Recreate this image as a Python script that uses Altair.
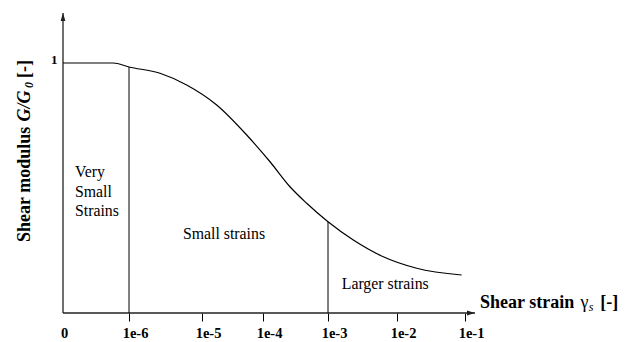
import json
import altair as alt
import pandas as pd

# ---------------- data ----------------
# x is a "decade index": 0 -> 0, 1 -> 1e-6, 2 -> 1e-5, ... 6 -> 1e-1
tick_pos = [0, 1, 2, 3, 4, 5, 6]
tick_labels = ["0", "1e-6", "1e-5", "1e-4", "1e-3", "1e-2", "1e-1"]

strain_pos = [0.0, 0.76, 1.0, 1.425, 1.79, 2.241, 2.733, 3.108, 3.415, 3.672,
              4.0, 4.367, 4.801, 5.29, 5.951]
g_ratio = [1.0, 1.0, 0.984, 0.959, 0.912, 0.832, 0.712, 0.605, 0.505, 0.439,
           0.365, 0.292, 0.225, 0.179, 0.152]

boundary_pos = [1, 4]
boundary_top = [0.984, 0.365]

y_tick_vals = [1]

region_text = ["Very", "Small", "Strains", "Larger strains"]
center_text = ["Small strains"]

FONT = "Liberation Serif"

# ---------------- scales / axes ----------------
# hand-drawn axis: ticks are not evenly spaced, so use a piecewise scale
X_SCALE = alt.Scale(domain=tick_pos, range=[0, 66, 139, 200, 265, 334, 402],
                    nice=False, zero=False)
Y_SCALE = alt.Scale(domain=[0, 1], range=[313, 63], nice=False, zero=False)

x_axis = alt.Axis(
    values=tick_pos, title=None, domain=False, grid=False, ticks=True,
    tickSize=8, tickColor="black", tickWidth=1,
    tickOpacity={"condition": {"test": "datum.value == 0", "value": 0}, "value": 1},
    labelOffset={"condition": {"test": "datum.value == 0", "value": 1}, "value": 6},
    labelExpr=f"{json.dumps(tick_labels)}[datum.value]",
    labelFont=FONT, labelFontWeight="bold", labelFontSize=14.5, labelColor="black",
    labelBaseline="alphabetic", labelPadding=16, labelFlush=False,
    labelOverlap=False, labelAngle=0,
)
y_axis = alt.Axis(
    values=y_tick_vals, title=None, domain=False, grid=False, ticks=False,
    labelFont=FONT, labelFontWeight="bold", labelFontSize=13, labelColor="black",
    labelPadding=6, labelBaseline="alphabetic", labelFlush=False,
)


def X(f):
    return alt.X(f, type="quantitative", scale=X_SCALE, axis=x_axis)


def Y(f):
    return alt.Y(f, type="quantitative", scale=Y_SCALE, axis=y_axis)


# ---------------- layers ----------------
axes_df = pd.DataFrame({"u": [0, 0], "g": [0, 0], "u2": [6.147, 0], "g2": [0, 1.2]})
axes = alt.Chart(axes_df).mark_rule(color="#222222", strokeWidth=1.3).encode(
    x=X("u"), y=Y("g"), x2="u2", y2="g2")

arrow_df = pd.DataFrame({
    "u": [6.147, 0], "g": [0, 1.2],
    "shape": ["M0,0L-2,-0.6L-2,0.6Z", "M0,0L0.6,2L-0.6,2Z"],
})
arrows = alt.Chart(arrow_df).mark_point(filled=True, color="#222222", size=64, opacity=1).encode(
    x=X("u"), y=Y("g"), shape=alt.Shape("shape:N", scale=None))

bnd_df = pd.DataFrame({"u": boundary_pos, "top": boundary_top, "g": [0, 0]})
bounds = alt.Chart(bnd_df).mark_rule(color="black", strokeWidth=1).encode(
    x=X("u"), y=Y("g"), y2="top")

curve_df = pd.DataFrame({"u": strain_pos, "g": g_ratio})
curve = alt.Chart(curve_df).mark_line(interpolate="monotone", color="black", strokeWidth=1.2).encode(
    x=X("u"), y=Y("g"))

reg_df = pd.DataFrame({"t": region_text, "u": [0.182, 0.182, 0.182, 4.199],
                       "g": [0.543, 0.465, 0.388, 0.098]})
regions = alt.Chart(reg_df).mark_text(font=FONT, fontSize=15.8, align="left",
                                      baseline="alphabetic", color="black").encode(
    x=X("u"), y=Y("g"), text="t")

ctr_df = pd.DataFrame({"t": center_text, "u": [2.361], "g": [0.297]})
center = alt.Chart(ctr_df).mark_text(font=FONT, fontSize=15.8, align="center",
                                     baseline="alphabetic", color="black").encode(
    x=X("u"), y=Y("g"), text="t")


def txt(df, **kw):
    base = dict(font=FONT, baseline="alphabetic", align="left", color="black")
    base.update(kw)
    return alt.Chart(df).mark_text(**base).encode(x=X("u"), y=Y("g"), text="t")


# x axis title: "Shear strain γs [-]"
xt_bold = txt(pd.DataFrame({"t": ["Shear strain", "[-]"], "u": [6.221, 7.99], "g": [0.022, 0.022]}),
              fontSize=18, fontWeight="bold")
xt_gamma = txt(pd.DataFrame({"t": ["γ"], "u": [7.70], "g": [0.022]}), fontSize=18)
xt_sub = txt(pd.DataFrame({"t": ["s"], "u": [7.82], "g": [0.009]}), fontSize=12, fontStyle="italic")

# y axis title: "Shear modulus G/G0 [-]" (rotated)
yt_bold = txt(pd.DataFrame({"t": ["Shear modulus", "[-]"], "u": [-0.5, -0.5], "g": [0.284, 0.94]}),
              fontSize=18, fontWeight="bold", angle=270)
yt_ital = txt(pd.DataFrame({"t": ["G/G"], "u": [-0.5], "g": [0.766]}),
              fontSize=18, fontWeight="bold", fontStyle="italic", angle=270)
yt_sub = txt(pd.DataFrame({"t": ["0"], "u": [-0.45], "g": [0.9]}),
             fontSize=12, fontWeight="bold", fontStyle="italic", angle=270)

chart = alt.layer(
    axes, arrows, bounds, curve, regions, center,
    xt_bold, xt_gamma, xt_sub, yt_bold, yt_ital, yt_sub,
).properties(
    width=567, height=313,
    padding={"left": 63, "top": 0, "right": 0, "bottom": 29},
    autosize=alt.AutoSizeParams(type="none"),
    background="white",
).configure_view(stroke=None)

chart.save("out.html", embed_options={"renderer": "svg", "actions": False})
